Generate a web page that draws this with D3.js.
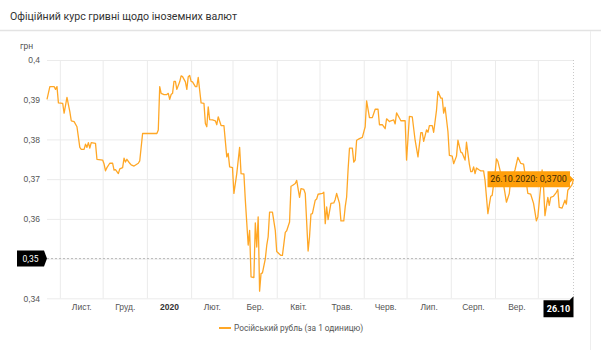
<!DOCTYPE html>
<html>
<head>
<meta charset="utf-8">
<script src="https://cdn.jsdelivr.net/npm/d3@7"></script>
<style>
  html, body { margin: 0; padding: 0; background: #fff; }
  svg { display: block; font-family: Roboto, "Noto Sans", "DejaVu Sans", sans-serif; }
</style>
</head>
<body>
<svg id="chart" width="601" height="350"></svg>
<script>
// ---- Chart data ----
const titleText = "Офіційний курс гривні щодо іноземних валют";
const unitLabel = "грн";
const seriesName = "Російський рубль (за 1 одиницю)";
const yTicks = [0.34, 0.35, 0.36, 0.37, 0.38, 0.39, 0.40];
const monthStarts = ["2019-11-01", "2019-12-01", "2020-01-01", "2020-02-01", "2020-03-01",
  "2020-04-01", "2020-05-01", "2020-06-01", "2020-07-01", "2020-08-01", "2020-09-01",
  "2020-10-01"];
const monthLabels = ["Лист.", "Груд.", "2020", "Лют.", "Бер.", "Квіт.", "Трав.", "Черв.",
  "Лип.", "Серп.", "Вер."];
const crosshairValue = 0.35;

// Official UAH rate for 1 RUB: [date, rate]
const rubRates = [
  ["2019-10-23", 0.3901], ["2019-10-25", 0.3933], ["2019-10-28", 0.3933], ["2019-10-29", 0.3926],
  ["2019-10-30", 0.3933], ["2019-10-31", 0.3892],
  ["2019-11-03", 0.3891], ["2019-11-04", 0.3866], ["2019-11-06", 0.3906], ["2019-11-08", 0.3870],
  ["2019-11-09", 0.3847], ["2019-11-11", 0.3845], ["2019-11-13", 0.3832], ["2019-11-15", 0.3780],
  ["2019-11-16", 0.3775], ["2019-11-18", 0.3775], ["2019-11-19", 0.3788], ["2019-11-20", 0.3780],
  ["2019-11-21", 0.3792], ["2019-11-22", 0.3778], ["2019-11-23", 0.3792], ["2019-11-26", 0.3790],
  ["2019-11-27", 0.3750],
  ["2019-12-01", 0.3748], ["2019-12-02", 0.3738], ["2019-12-03", 0.3721], ["2019-12-04", 0.3729],
  ["2019-12-06", 0.3740], ["2019-12-08", 0.3740], ["2019-12-09", 0.3723], ["2019-12-10", 0.3724],
  ["2019-12-12", 0.3714], ["2019-12-13", 0.3726], ["2019-12-15", 0.3729], ["2019-12-16", 0.3753],
  ["2019-12-17", 0.3743], ["2019-12-18", 0.3750], ["2019-12-20", 0.3740], ["2019-12-21", 0.3736],
  ["2019-12-23", 0.3733], ["2019-12-26", 0.3740], ["2019-12-27", 0.3746], ["2019-12-29", 0.3815],
  ["2020-01-08", 0.3815], ["2020-01-09", 0.3824], ["2020-01-10", 0.3933], ["2020-01-11", 0.3916],
  ["2020-01-13", 0.3913], ["2020-01-15", 0.3913], ["2020-01-16", 0.3916], ["2020-01-17", 0.3901],
  ["2020-01-18", 0.3913], ["2020-01-19", 0.3916], ["2020-01-20", 0.3946], ["2020-01-21", 0.3946],
  ["2020-01-22", 0.3926], ["2020-01-24", 0.3945], ["2020-01-25", 0.3960], ["2020-01-26", 0.3958],
  ["2020-01-28", 0.3945], ["2020-01-29", 0.3926], ["2020-01-30", 0.3958], ["2020-01-31", 0.3961],
  ["2020-02-01", 0.3946], ["2020-02-02", 0.3945], ["2020-02-04", 0.3933], ["2020-02-05", 0.3933],
  ["2020-02-06", 0.3956], ["2020-02-08", 0.3892], ["2020-02-10", 0.3891], ["2020-02-11", 0.3840],
  ["2020-02-12", 0.3832], ["2020-02-13", 0.3882], ["2020-02-14", 0.3850], ["2020-02-16", 0.3849],
  ["2020-02-18", 0.3847], ["2020-02-19", 0.3837], ["2020-02-20", 0.3857], ["2020-02-22", 0.3835],
  ["2020-02-24", 0.3835], ["2020-02-26", 0.3756], ["2020-02-27", 0.3765], ["2020-02-28", 0.3731],
  ["2020-03-01", 0.3729], ["2020-03-02", 0.3664], ["2020-03-04", 0.3714], ["2020-03-06", 0.3780],
  ["2020-03-07", 0.3714], ["2020-03-09", 0.3713], ["2020-03-10", 0.3647], ["2020-03-12", 0.3534],
  ["2020-03-13", 0.3571], ["2020-03-14", 0.3454], ["2020-03-16", 0.3452], ["2020-03-17", 0.3590],
  ["2020-03-18", 0.3529], ["2020-03-19", 0.3605], ["2020-03-20", 0.3418], ["2020-03-21", 0.3462],
  ["2020-03-22", 0.3464], ["2020-03-24", 0.3499], ["2020-03-25", 0.3533], ["2020-03-26", 0.3555],
  ["2020-03-27", 0.3617], ["2020-03-29", 0.3617], ["2020-03-31", 0.3571],
  ["2020-04-01", 0.3518], ["2020-04-03", 0.3511], ["2020-04-04", 0.3508], ["2020-04-05", 0.3508],
  ["2020-04-07", 0.3566], ["2020-04-08", 0.3570], ["2020-04-10", 0.3592], ["2020-04-11", 0.3682],
  ["2020-04-12", 0.3684], ["2020-04-14", 0.3689], ["2020-04-15", 0.3697], ["2020-04-17", 0.3654],
  ["2020-04-18", 0.3676], ["2020-04-20", 0.3674], ["2020-04-21", 0.3664], ["2020-04-23", 0.3519],
  ["2020-04-24", 0.3555], ["2020-04-25", 0.3612], ["2020-04-26", 0.3613], ["2020-04-28", 0.3647],
  ["2020-04-29", 0.3650], ["2020-04-30", 0.3662],
  ["2020-05-03", 0.3664], ["2020-05-04", 0.3667], ["2020-05-05", 0.3588], ["2020-05-06", 0.3630],
  ["2020-05-07", 0.3598], ["2020-05-09", 0.3639], ["2020-05-11", 0.3640], ["2020-05-12", 0.3649],
  ["2020-05-13", 0.3664], ["2020-05-15", 0.3639], ["2020-05-16", 0.3595], ["2020-05-18", 0.3595],
  ["2020-05-19", 0.3630], ["2020-05-20", 0.3655], ["2020-05-21", 0.3723], ["2020-05-22", 0.3778],
  ["2020-05-24", 0.3778], ["2020-05-25", 0.3743], ["2020-05-26", 0.3748], ["2020-05-27", 0.3798],
  ["2020-05-29", 0.3802], ["2020-05-31", 0.3805],
  ["2020-06-02", 0.3832], ["2020-06-03", 0.3897], ["2020-06-05", 0.3855], ["2020-06-07", 0.3855],
  ["2020-06-09", 0.3876], ["2020-06-11", 0.3876], ["2020-06-12", 0.3837], ["2020-06-14", 0.3837],
  ["2020-06-16", 0.3827], ["2020-06-17", 0.3852], ["2020-06-19", 0.3845], ["2020-06-20", 0.3847],
  ["2020-06-22", 0.3849], ["2020-06-23", 0.3839], ["2020-06-24", 0.3867], ["2020-06-26", 0.3854],
  ["2020-06-27", 0.3847], ["2020-06-30", 0.3847],
  ["2020-07-01", 0.3748], ["2020-07-03", 0.3858], ["2020-07-05", 0.3857], ["2020-07-07", 0.3798],
  ["2020-07-09", 0.3756], ["2020-07-11", 0.3817], ["2020-07-12", 0.3817], ["2020-07-13", 0.3795],
  ["2020-07-15", 0.3824], ["2020-07-16", 0.3818], ["2020-07-17", 0.3835], ["2020-07-19", 0.3835],
  ["2020-07-20", 0.3818], ["2020-07-22", 0.3874], ["2020-07-23", 0.3921], ["2020-07-25", 0.3904],
  ["2020-07-26", 0.3904], ["2020-07-27", 0.3866], ["2020-07-28", 0.3881], ["2020-07-30", 0.3820],
  ["2020-07-31", 0.3760],
  ["2020-08-02", 0.3758], ["2020-08-03", 0.3739], ["2020-08-05", 0.3758], ["2020-08-06", 0.3798],
  ["2020-08-08", 0.3768], ["2020-08-09", 0.3766], ["2020-08-11", 0.3748], ["2020-08-12", 0.3793],
  ["2020-08-14", 0.3738], ["2020-08-15", 0.3719], ["2020-08-16", 0.3719], ["2020-08-17", 0.3731],
  ["2020-08-18", 0.3714], ["2020-08-19", 0.3728], ["2020-08-21", 0.3723], ["2020-08-22", 0.3721],
  ["2020-08-24", 0.3721], ["2020-08-25", 0.3697], ["2020-08-26", 0.3655], ["2020-08-27", 0.3613],
  ["2020-08-29", 0.3657], ["2020-08-30", 0.3659],
  ["2020-09-01", 0.3714], ["2020-09-02", 0.3751], ["2020-09-03", 0.3745], ["2020-09-05", 0.3715],
  ["2020-09-07", 0.3686], ["2020-09-09", 0.3642], ["2020-09-11", 0.3664], ["2020-09-12", 0.3700],
  ["2020-09-15", 0.3723], ["2020-09-17", 0.3755], ["2020-09-19", 0.3740], ["2020-09-21", 0.3738],
  ["2020-09-22", 0.3714], ["2020-09-24", 0.3664], ["2020-09-26", 0.3662], ["2020-09-28", 0.3639],
  ["2020-09-30", 0.3595],
  ["2020-10-01", 0.3605], ["2020-10-03", 0.3681], ["2020-10-04", 0.3723], ["2020-10-05", 0.3681],
  ["2020-10-06", 0.3608], ["2020-10-08", 0.3654], ["2020-10-09", 0.3634], ["2020-10-10", 0.3654],
  ["2020-10-12", 0.3657], ["2020-10-14", 0.3667], ["2020-10-15", 0.3674], ["2020-10-16", 0.3629],
  ["2020-10-18", 0.3627], ["2020-10-20", 0.3647], ["2020-10-21", 0.3637], ["2020-10-22", 0.3672],
  ["2020-10-24", 0.3681], ["2020-10-25", 0.3686], ["2020-10-26", 0.3700]
];

// ---- Setup ----
const parse = d3.timeParse("%Y-%m-%d");
const series = rubRates.map(([d, v]) => ({ date: parse(d), value: v }));
const months = monthStarts.map(parse);
const last = series[series.length - 1];

const W = 601, H = 350;
const plot = { left: 47, right: 573.5, top: 60, bottom: 298.3 };
const lineColor = "#ffa726";
const gridColor = "#ebebeb";
const commaNum = (fmt) => (v) => d3.format(fmt)(v).replace(".", ",");

const svg = d3.select("#chart");

const x = d3.scaleTime()
  .domain([series[0].date, last.date])
  .range([plot.left, plot.right]);
const y = d3.scaleLinear()
  .domain([yTicks[0], yTicks[yTicks.length - 1]])
  .range([plot.bottom, plot.top]);

// ---- Header ----
svg.append("text")
  .attr("x", 10).attr("y", 19.5)
  .attr("font-size", 10.6).attr("fill", "#333")
  .text(titleText);
svg.append("line")
  .attr("x1", 0).attr("x2", W).attr("y1", 30.5).attr("y2", 30.5)
  .attr("stroke", "#e3e3e3").attr("stroke-width", 1.5);
svg.append("line")
  .attr("x1", 590.5).attr("x2", 590.5).attr("y1", 31).attr("y2", H)
  .attr("stroke", "#eeeeee");

// ---- Grid ----
svg.append("g")
  .attr("transform", `translate(${plot.left},0)`)
  .call(d3.axisLeft(y).tickValues(yTicks).tickSize(-(plot.right - plot.left)).tickFormat(""))
  .call(g => g.select(".domain").remove())
  .call(g => g.selectAll("line").attr("stroke", gridColor));

svg.append("g")
  .attr("transform", `translate(0,${plot.bottom})`)
  .call(d3.axisBottom(x).tickValues(months).tickSize(-(plot.bottom - plot.top)).tickFormat(""))
  .call(g => g.select(".domain").remove())
  .call(g => g.selectAll("line").attr("stroke", gridColor));

// ---- Axis labels ----
svg.append("text")
  .attr("x", 20).attr("y", 49)
  .attr("font-size", 8.5).attr("fill", "#555")
  .text(unitLabel);

svg.append("g")
  .attr("transform", `translate(${plot.left},0)`)
  .call(d3.axisLeft(y).tickValues(yTicks).tickSize(0).tickPadding(7).tickFormat(commaNum(".2~f")))
  .call(g => g.select(".domain").remove())
  .call(g => g.selectAll("text")
    .attr("font-family", null).attr("font-size", 8.5).attr("fill", "#555"));

// Month labels are centred inside each month span
const monthMids = monthLabels.map((_, i) =>
  new Date((months[i].getTime() + (months[i + 1] || last.date).getTime()) / 2));
svg.append("g")
  .attr("transform", `translate(0,${plot.bottom})`)
  .call(d3.axisBottom(x).tickValues(monthMids).tickSize(0).tickPadding(6)
    .tickFormat((d, i) => monthLabels[i]))
  .call(g => g.select(".domain").remove())
  .call(g => g.selectAll("text")
    .attr("font-family", null).attr("font-size", 8.5)
    .attr("font-weight", (d, i) => monthLabels[i] === "2020" ? "bold" : null)
    .attr("fill", (d, i) => monthLabels[i] === "2020" ? "#333" : "#555"));

// ---- Crosshair ----
const cy = y(crosshairValue);
const cx = x(last.date);
svg.append("line")
  .attr("x1", plot.left).attr("x2", plot.right).attr("y1", cy).attr("y2", cy)
  .attr("stroke", "#aaa").attr("stroke-width", 0.8).attr("stroke-dasharray", "2,2");
svg.append("line")
  .attr("x1", cx).attr("x2", cx).attr("y1", plot.top).attr("y2", plot.bottom)
  .attr("stroke", "#bbb").attr("stroke-width", 0.8).attr("stroke-dasharray", "1,2");

// ---- Series line ----
svg.append("path")
  .datum(series)
  .attr("fill", "none")
  .attr("stroke", lineColor)
  .attr("stroke-width", 1.3)
  .attr("stroke-linejoin", "round")
  .attr("d", d3.line().x(d => x(d.date)).y(d => y(d.value)));

// ---- Crosshair value flags ----
const yFlag = svg.append("g");
yFlag.append("path")
  .attr("d", `M17,${cy - 8} H44 L47,${cy} L44,${cy + 8} H17 Z`)
  .attr("fill", "#000");
yFlag.append("text")
  .attr("x", 30.5).attr("y", cy + 3)
  .attr("text-anchor", "middle").attr("font-size", 8.5).attr("fill", "#fff")
  .text(commaNum(".2f")(crosshairValue));

const xFlag = svg.append("g");
xFlag.append("path")
  .attr("d", `M${cx - 30},${plot.bottom + 2} H${cx - 4} L${cx},${plot.bottom - 2} V${plot.bottom + 19} H${cx - 30} Z`)
  .attr("fill", "#000");
xFlag.append("text")
  .attr("x", cx - 15).attr("y", plot.bottom + 14)
  .attr("text-anchor", "middle").attr("font-size", 9).attr("font-weight", "bold").attr("fill", "#fff")
  .text(d3.timeFormat("%d.%m")(last.date));

// ---- Tooltip on the last point ----
const ty = y(last.value);
const tip = svg.append("g");
tip.append("path")
  .attr("d", `M${cx - 86},${ty - 8} H${cx - 3.5} V${ty - 3.5} L${cx},${ty} L${cx - 3.5},${ty + 3.5} V${ty + 8} H${cx - 86} Z`)
  .attr("fill", "#ff9f0a");
tip.append("text")
  .attr("x", cx - 45).attr("y", ty + 3.3)
  .attr("text-anchor", "middle").attr("font-size", 9).attr("fill", "#3b2a05")
  .text(`${d3.timeFormat("%d.%m.%Y")(last.date)}: ${commaNum(".4f")(last.value)}`);

// ---- Legend ----
const legend = svg.append("g").attr("transform", "translate(219,328)");
legend.append("line")
  .attr("x1", 0).attr("x2", 12).attr("y1", 0).attr("y2", 0)
  .attr("stroke", lineColor).attr("stroke-width", 2);
legend.append("text")
  .attr("x", 15).attr("y", 3)
  .attr("font-size", 8.3).attr("fill", "#555")
  .text(seriesName);
</script>
</body>
</html>
